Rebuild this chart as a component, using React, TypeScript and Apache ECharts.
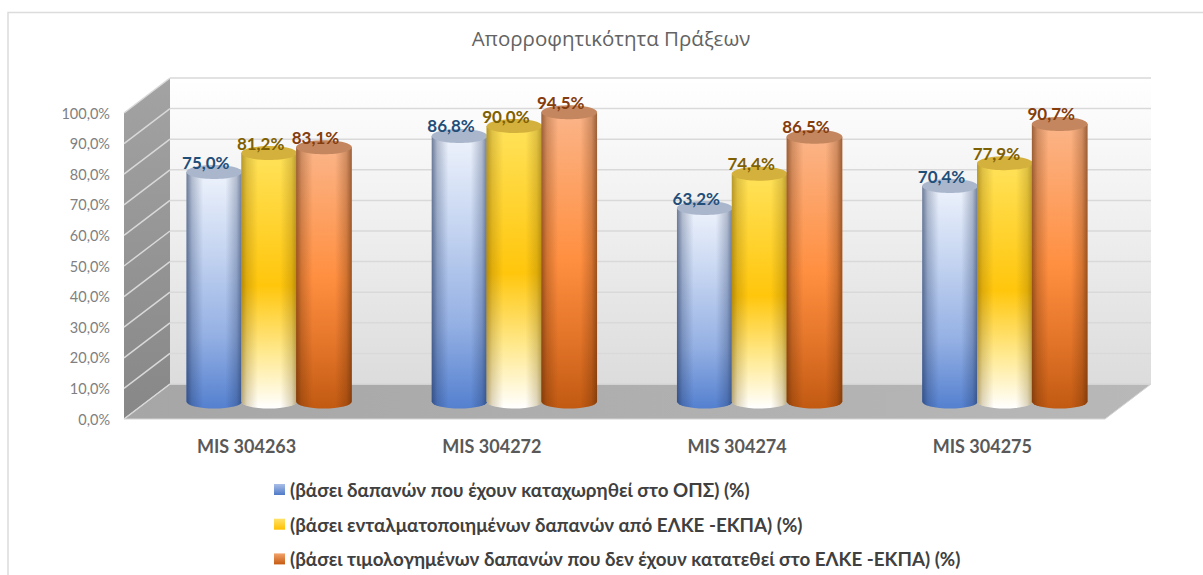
import React, { useEffect, useRef } from "react";
import * as echarts from "echarts";

const categories = ["MIS 304263", "MIS 304272", "MIS 304274", "MIS 304275"];
const seriesNames = [
  "(βάσει δαπανών που έχουν καταχωρηθεί στο ΟΠΣ) (%)",
  "(βάσει ενταλματοποιημένων δαπανών από ΕΛΚΕ -ΕΚΠΑ) (%)",
  "(βάσει τιμολογημένων δαπανών που δεν έχουν κατατεθεί στο ΕΛΚΕ -ΕΚΠΑ) (%)",
];
const valuesBlue = [75.0, 86.8, 63.2, 70.4];
const valuesYellow = [81.2, 90.0, 74.4, 77.9];
const valuesOrange = [83.1, 94.5, 86.5, 90.7];
const ticks = [0, 10, 20, 30, 40, 50, 60, 70, 80, 90, 100];

const FONT = "Lato, 'Noto Sans', sans-serif";
const DX = 46;
const DY = -35;

const palette = [
  {
    stops: ["#eef3fc", "#c3d3f0", "#93afe3", "#5480cf"],
    at: [0, 0.35, 0.7, 1],
    cap: "#a9b6cc",
    label: "#1f4e79",
    edge: "rgba(30,50,90,",
    edgeA: 0.62,
    legend: ["#a9bee6", "#4f7ac8"],
  },
  {
    stops: ["#ffe25a", "#ffc60c", "#ffe98f", "#ffffff"],
    at: [0, 0.52, 0.78, 1],
    cap: "#d4b03c",
    label: "#7f6000",
    edge: "rgba(110,80,0,",
    edgeA: 0.5,
    legend: ["#ffe26a", "#ffc000"],
  },
  {
    stops: ["#fbb488", "#ff8f40", "#e4762a", "#c25a12"],
    at: [0, 0.5, 0.75, 1],
    cap: "#c4865e",
    label: "#843c0c",
    edge: "rgba(90,40,5,",
    edgeA: 0.6,
    legend: ["#f3a36b", "#c55a11"],
  },
];

const vGrad = (stops: string[], at: number[]) =>
  new echarts.graphic.LinearGradient(0, 0, 0, 1, stops.map((c, i) => ({ offset: at[i], color: c })));

function frameItem(params: any, api: any) {
  const tick = api.value(1);
  const sys = params.coordSys;
  const x0 = sys.x;
  const x1 = sys.x + sys.width;
  const y = api.coord([0, tick])[1];
  const children: any[] = [];
  if (params.dataIndex === 0) {
    const yb = y;
    const yt = api.coord([0, 100])[1];
    children.push({
      type: "polygon",
      shape: { points: [[x0 + DX, yt + DY], [x1 + DX, yt + DY], [x1 + DX, yb + DY], [x0 + DX, yb + DY]] },
      style: { fill: vGrad(["#ffffff", "#f0f0f0", "#dcdcdc"], [0, 0.45, 1]) },
    });
    children.push({
      type: "polygon",
      shape: { points: [[x0, yt], [x0 + DX, yt + DY], [x0 + DX, yb + DY], [x0, yb]] },
      style: { fill: vGrad(["#a3a3a3", "#878787"], [0, 1]) },
    });
    children.push({
      type: "polygon",
      shape: { points: [[x0, yb], [x0 + DX, yb + DY], [x1 + DX, yb + DY], [x1, yb]] },
      style: {
        fill: new echarts.graphic.LinearGradient(0, 0, 1, 0, [
          { offset: 0, color: "#a6a6a6" },
          { offset: 1, color: "#b8b8b8" },
        ]),
        stroke: "#d4d4d4",
        lineWidth: 1,
      },
    });
  }
  children.push({
    type: "line",
    shape: { x1: x0, y1: y, x2: x0 + DX, y2: y + DY },
    style: { stroke: "#d9d9d9", lineWidth: 1.5 },
  });
  children.push({
    type: "line",
    shape: { x1: x0 + DX, y1: y + DY, x2: x1 + DX, y2: y + DY },
    style: { stroke: "#d9d9d9", lineWidth: 1.5 },
  });
  return { type: "group", children };
}

const cylinderItem = (si: number) => (params: any, api: any) => {
  const cat = api.value(0);
  const val = api.value(1);
  const pal = palette[si];
  const band = api.size([1, 0])[0];
  const off = band * 0.2236 * (si - 1);
  const rx = band * 0.1135;
  const ry = 7;
  const base = api.coord([cat, 0]);
  const top = api.coord([cat, val]);
  const cx = base[0] + off + DX / 2 - 0.5;
  const yb = base[1] + DY / 2;
  const yt = top[1] + DY / 2;
  const d =
    `M${cx - rx} ${yt}L${cx + rx} ${yt}L${cx + rx} ${yb}` +
    `A${rx} ${ry} 0 0 1 ${cx - rx} ${yb}Z`;
  const a = pal.edgeA;
  return {
    type: "group",
    children: [
      { type: "path", shape: { pathData: d }, style: { fill: vGrad(pal.stops, pal.at) } },
      {
        type: "path",
        shape: { pathData: d },
        style: {
          fill: new echarts.graphic.LinearGradient(0, 0, 1, 0, [
            { offset: 0, color: pal.edge + a + ")" },
            { offset: 0.1, color: pal.edge + a * 0.45 + ")" },
            { offset: 0.3, color: pal.edge + "0)" },
            { offset: 0.7, color: pal.edge + "0)" },
            { offset: 0.9, color: pal.edge + a * 0.45 + ")" },
            { offset: 1, color: pal.edge + a + ")" },
          ]),
        },
      },
      {
        type: "ellipse",
        shape: { cx, cy: yt, rx, ry },
        style: { fill: pal.cap },
      },
      {
        type: "text",
        z2: 50,
        style: {
          x: cx - 8.5,
          y: yt - 10,
          text: val.toFixed(1).replace(".", ",") + "%",
          align: "center",
          verticalAlign: "middle",
          fill: pal.label,
          font: `bold 17px ${FONT}`,
        },
      },
    ],
  };
};

const seriesData = [valuesBlue, valuesYellow, valuesOrange];

export default function App() {
  const ref = useRef<HTMLDivElement>(null);
  useEffect(() => {
    const chart = echarts.init(ref.current!, null, { renderer: "svg" });
    chart.setOption({
      animation: false,
      backgroundColor: "#ffffff",
      title: {
        text: "Απορροφητικότητα Πράξεων",
        left: 606,
        top: 22,
        textAlign: "center",
        textStyle: { fontFamily: "'Open Sans', sans-serif", fontSize: 20.5, fontWeight: "normal", color: "#636363" },
      },
      legend: {
        orient: "vertical",
        left: 269,
        top: 475,
        itemWidth: 11,
        itemHeight: 11,
        itemGap: 15.7,
        icon: "rect",
        data: seriesNames,
        textStyle: { fontFamily: FONT, fontSize: 18.8, fontWeight: "bold", color: "#404040" },
      },
      grid: { left: 124, top: 113, width: 981, height: 306 },
      xAxis: {
        type: "category",
        data: categories,
        axisLine: { show: false },
        axisTick: { show: false },
        splitLine: { show: false },
        axisLabel: { fontFamily: FONT, fontSize: 18, fontWeight: "bold", color: "#595959", margin: 18 },
      },
      yAxis: {
        type: "value",
        min: 0,
        max: 100,
        interval: 10,
        axisLine: { show: false },
        axisTick: { show: false },
        splitLine: { show: false },
        axisLabel: {
          fontFamily: FONT,
          fontSize: 14.5,
          color: "#808080",
          margin: 14,
          padding: [4, 0, 0, 0],
          formatter: (v: number) => v.toFixed(1).replace(".", ",") + "%",
        },
      },
      graphic: [
        {
          type: "polyline",
          silent: true,
          shape: { points: [[8, 575], [8, 12.5], [1203, 12.5]] },
          style: { stroke: "#dcdcdc", lineWidth: 1.5, fill: "none" },
        },
      ],
      series: [
        {
          type: "custom",
          name: "frame",
          silent: true,
          clip: false,
          z: 1,
          renderItem: frameItem,
          data: ticks.map((t) => [0, t]),
        },
        ...seriesNames.map((name, si) => ({
          type: "custom",
          name,
          clip: false,
          z: 2,
          silent: true,
          renderItem: cylinderItem(si),
          itemStyle: {
            color: new echarts.graphic.LinearGradient(0, 0, 0, 1, [
              { offset: 0, color: palette[si].legend[0] },
              { offset: 1, color: palette[si].legend[1] },
            ]),
          },
          encode: { x: 0, y: 1 },
          data: seriesData[si].map((v, i) => [i, v]),
        })),
      ],
    });
    return () => chart.dispose();
  }, []);
  return <div ref={ref} style={{ position: "fixed", left: 0, top: 0, width: 1203, height: 575 }} />;
}
